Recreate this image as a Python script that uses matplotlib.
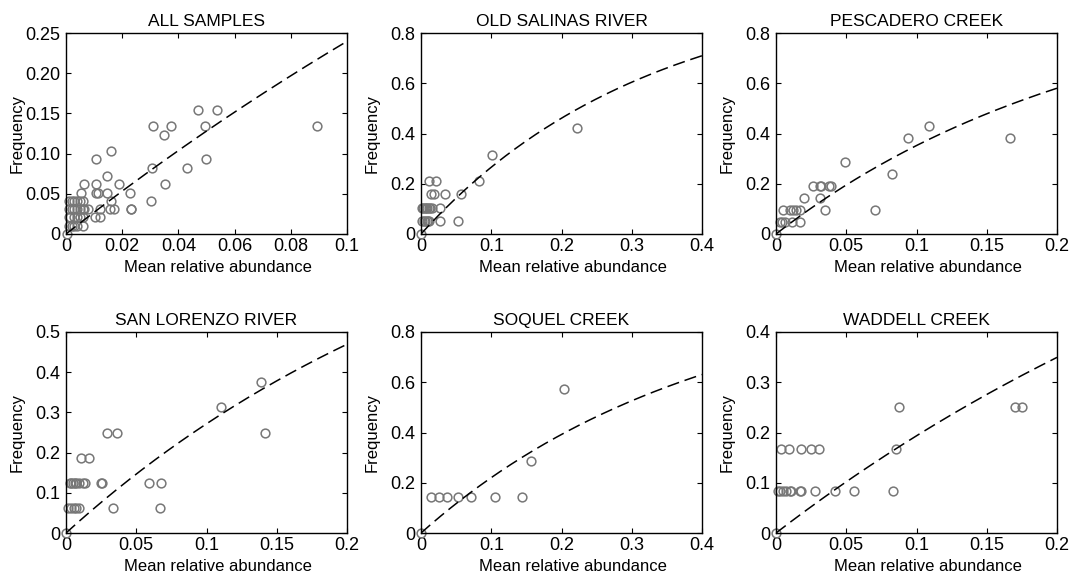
import numpy as np
import matplotlib
matplotlib.use("Agg")
import matplotlib.pyplot as plt
from matplotlib.ticker import FixedLocator, FixedFormatter

plt.rcParams['font.family'] = ['Liberation Sans', 'DejaVu Sans']

titles = ["ALL SAMPLES", "OLD SALINAS RIVER", "PESCADERO CREEK",
          "SAN LORENZO RIVER", "SOQUEL CREEK", "WADDELL CREEK"]

# ---- data: mean relative abundance (x) and frequency (y) ----
all_x = [0.0005,
         0.001, 0.002, 0.003, 0.004, 0.006,
         0.001, 0.0015, 0.003, 0.004, 0.005, 0.006, 0.0102, 0.012,
         0.001, 0.002, 0.003, 0.004, 0.005, 0.006, 0.0065, 0.0078, 0.012, 0.0155, 0.0171, 0.023, 0.0232,
         0.001, 0.002, 0.003, 0.004, 0.005, 0.006, 0.0161, 0.0304,
         0.0052, 0.0106, 0.0113, 0.0147, 0.0227,
         0.0064, 0.0106, 0.0189, 0.0351,
         0.0147,
         0.0307, 0.043,
         0.0108, 0.0498,
         0.0161,
         0.0347,
         0.0311, 0.0374, 0.0496, 0.0893,
         0.0469, 0.0537]
all_y = [0.0,
         0.0103, 0.0103, 0.0103, 0.0103, 0.0103,
         0.0206, 0.0206, 0.0206, 0.0206, 0.0206, 0.0206, 0.0206, 0.0206,
         0.0309, 0.0309, 0.0309, 0.0309, 0.0309, 0.0309, 0.0309, 0.0309, 0.0309, 0.0309, 0.0309, 0.0309, 0.0309,
         0.0412, 0.0412, 0.0412, 0.0412, 0.0412, 0.0412, 0.0412, 0.0412,
         0.0515, 0.0515, 0.0515, 0.0515, 0.0515,
         0.0619, 0.0619, 0.0619, 0.0619,
         0.0722,
         0.0825, 0.0825,
         0.0928, 0.0928,
         0.1031,
         0.1237,
         0.1340, 0.1340, 0.1340, 0.1340,
         0.1546, 0.1546]

salinas_x = [0.0,
             0.002, 0.004, 0.006, 0.008, 0.010, 0.012, 0.0266, 0.0527,
             0.001, 0.003, 0.005, 0.007, 0.009, 0.011, 0.013, 0.015, 0.0275,
             0.0147, 0.018, 0.0337, 0.0574,
             0.0114, 0.0218, 0.082,
             0.1007, 0.222]
salinas_y = [0.0,
             0.0526, 0.0526, 0.0526, 0.0526, 0.0526, 0.0526, 0.0526, 0.0526,
             0.1053, 0.1053, 0.1053, 0.1053, 0.1053, 0.1053, 0.1053, 0.1053, 0.1053,
             0.1579, 0.1579, 0.1579, 0.1579,
             0.2105, 0.2105, 0.2105,
             0.3158, 0.4211]

pescadero_x = [0.0,
               0.0026, 0.0043, 0.0062, 0.0114, 0.0168,
               0.005, 0.0097, 0.0121, 0.0145, 0.0168, 0.0351, 0.0702,
               0.0197, 0.0311,
               0.0263, 0.0311, 0.0323, 0.0377, 0.0389,
               0.0824, 0.0489, 0.0943, 0.1667, 0.1086]
pescadero_y = [0.0,
               0.0476, 0.0476, 0.0476, 0.0476, 0.0476,
               0.0952, 0.0952, 0.0952, 0.0952, 0.0952, 0.0952, 0.0952,
               0.1429, 0.1429,
               0.1905, 0.1905, 0.1905, 0.1905, 0.1905,
               0.2381, 0.2857, 0.3810, 0.3810, 0.4286]

lorenzo_x = [0.0,
             0.0014, 0.0038, 0.0057, 0.0074, 0.009, 0.0335, 0.0667,
             0.0026, 0.0038, 0.005, 0.0062, 0.0074, 0.009, 0.0121, 0.0133, 0.0247, 0.0258, 0.0588, 0.0679,
             0.0104, 0.0164,
             0.0294, 0.0365, 0.1418,
             0.1105, 0.139]
lorenzo_y = [0.0,
             0.0625, 0.0625, 0.0625, 0.0625, 0.0625, 0.0625, 0.0625,
             0.125, 0.125, 0.125, 0.125, 0.125, 0.125, 0.125, 0.125, 0.125, 0.125, 0.125, 0.125,
             0.1875, 0.1875,
             0.25, 0.25, 0.25,
             0.3125, 0.375]

soquel_x = [0.0, 0.0138, 0.0261, 0.0366, 0.0523, 0.0713, 0.1055, 0.1435, 0.156, 0.204]
soquel_y = [0.0, 0.1429, 0.1429, 0.1429, 0.1429, 0.1429, 0.1429, 0.1429, 0.2857, 0.5714]

waddell_x = [0.0,
             0.0014, 0.0031, 0.005, 0.0074, 0.0097, 0.0109, 0.0168, 0.018, 0.028, 0.0418, 0.0555, 0.083,
             0.0038, 0.009, 0.0176, 0.0251, 0.0306, 0.0855,
             0.0872, 0.1698, 0.175]
waddell_y = [0.0,
             0.0833, 0.0833, 0.0833, 0.0833, 0.0833, 0.0833, 0.0833, 0.0833, 0.0833, 0.0833, 0.0833, 0.0833,
             0.1667, 0.1667, 0.1667, 0.1667, 0.1667, 0.1667,
             0.25, 0.25, 0.25]

# fitted curve parameter per panel: freq = 1 - exp(-k * abundance)
fit_k = [2.74, 3.09, 4.34, 3.17, 2.49, 2.15]

x_max = [0.1, 0.4, 0.2, 0.2, 0.4, 0.2]
y_max = [0.25, 0.8, 0.8, 0.5, 0.8, 0.4]

x_ticks = [[0, 0.02, 0.04, 0.06, 0.08, 0.1],
           [0, 0.1, 0.2, 0.3, 0.4],
           [0, 0.05, 0.1, 0.15, 0.2],
           [0, 0.05, 0.1, 0.15, 0.2],
           [0, 0.1, 0.2, 0.3, 0.4],
           [0, 0.05, 0.1, 0.15, 0.2]]
x_labels = [["0", "0.02", "0.04", "0.06", "0.08", "0.1"],
            ["0", "0.1", "0.2", "0.3", "0.4"],
            ["0", "0.05", "0.1", "0.15", "0.2"],
            ["0", "0.05", "0.1", "0.15", "0.2"],
            ["0", "0.1", "0.2", "0.3", "0.4"],
            ["0", "0.05", "0.1", "0.15", "0.2"]]
y_ticks = [[0, 0.05, 0.10, 0.15, 0.20, 0.25],
           [0, 0.2, 0.4, 0.6, 0.8],
           [0, 0.2, 0.4, 0.6, 0.8],
           [0, 0.1, 0.2, 0.3, 0.4, 0.5],
           [0, 0.2, 0.4, 0.6, 0.8],
           [0, 0.1, 0.2, 0.3, 0.4]]
y_labels = [["0", "0.05", "0.10", "0.15", "0.20", "0.25"],
            ["0", "0.2", "0.4", "0.6", "0.8"],
            ["0", "0.2", "0.4", "0.6", "0.8"],
            ["0", "0.1", "0.2", "0.3", "0.4", "0.5"],
            ["0", "0.2", "0.4", "0.6", "0.8"],
            ["0", "0.1", "0.2", "0.3", "0.4"]]

xs = [all_x, salinas_x, pescadero_x, lorenzo_x, soquel_x, waddell_x]
ys = [all_y, salinas_y, pescadero_y, lorenzo_y, soquel_y, waddell_y]

W, H = 1070, 578
fig = plt.figure(figsize=(W / 100, H / 100), dpi=100)

lefts = [66, 421, 776]
ax_w = 281
tops = [33, 332]
ax_h = 201

fs_tick = 13
fs_title = 12.5
fs_label = 12
for i in range(6):
    r, c = divmod(i, 3)
    l = lefts[c]
    t = tops[r]
    ax = fig.add_axes([l / W, 1 - (t + ax_h) / H, ax_w / W, ax_h / H])
    xc = np.linspace(0, x_max[i], 200)
    yc = 1 - np.exp(-fit_k[i] * xc)
    ax.plot(xc, yc, color='black', linewidth=1.1, dashes=(8, 3.8), zorder=3)
    ax.plot(xs[i], ys[i], linestyle='none', marker='o', markersize=6.3,
            markerfacecolor='none', markeredgecolor='#777777', markeredgewidth=1.1,
            clip_on=False, zorder=2)
    ax.set_xlim(0, x_max[i])
    ax.set_ylim(0, y_max[i])
    ax.xaxis.set_major_locator(FixedLocator(x_ticks[i]))
    ax.xaxis.set_major_formatter(FixedFormatter(x_labels[i]))
    ax.yaxis.set_major_locator(FixedLocator(y_ticks[i]))
    ax.yaxis.set_major_formatter(FixedFormatter(y_labels[i]))
    ax.tick_params(direction='in', length=3.5, width=0.8, top=True, right=True,
                   labelsize=fs_tick, colors='black')
    ax.tick_params(axis='x', pad=3.2)
    ax.tick_params(axis='y', pad=4.2)
    for s in ax.spines.values():
        s.set_linewidth(1.0)
    ax.set_title(titles[i], fontsize=fs_title, pad=5)
    ax.set_xlabel("Mean relative abundance", fontsize=fs_label)
    ax.xaxis.set_label_coords(0.539, -0.13)
    ax.set_ylabel("Frequency", fontsize=fs_label)
    ax.yaxis.set_label_coords(-0.148, 0.5)

fig.savefig("out.png", dpi=100)
